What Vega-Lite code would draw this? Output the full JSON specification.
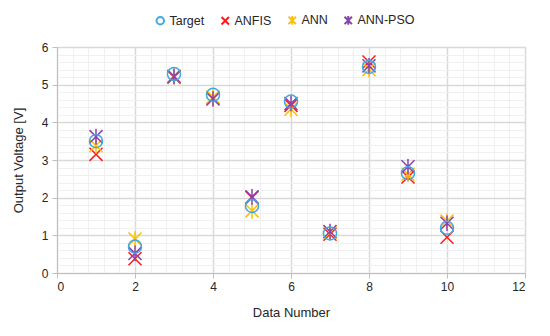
{
  "$schema": "https://vega.github.io/schema/vega-lite/v6.json",
  "width": 468,
  "height": 226,
  "autosize": {"type": "none"},
  "padding": {"left": 57, "top": 47, "right": 25, "bottom": 63},
  "background": "white",
  "config": {
    "font": "Liberation Sans",
    "view": {"stroke": "#d9d9d9", "strokeWidth": 1}
  },
  "data": {
    "values": [
      {"n": 1, "series": "Target", "v": 3.5},
      {"n": 2, "series": "Target", "v": 0.7},
      {"n": 3, "series": "Target", "v": 5.28},
      {"n": 4, "series": "Target", "v": 4.73},
      {"n": 5, "series": "Target", "v": 1.78},
      {"n": 6, "series": "Target", "v": 4.55},
      {"n": 7, "series": "Target", "v": 1.05},
      {"n": 8, "series": "Target", "v": 5.47},
      {"n": 9, "series": "Target", "v": 2.65},
      {"n": 10, "series": "Target", "v": 1.2},
      {"n": 1, "series": "ANFIS", "v": 3.15},
      {"n": 2, "series": "ANFIS", "v": 0.38},
      {"n": 3, "series": "ANFIS", "v": 5.2},
      {"n": 4, "series": "ANFIS", "v": 4.65},
      {"n": 5, "series": "ANFIS", "v": 2.0},
      {"n": 6, "series": "ANFIS", "v": 4.45},
      {"n": 7, "series": "ANFIS", "v": 1.03},
      {"n": 8, "series": "ANFIS", "v": 5.6},
      {"n": 9, "series": "ANFIS", "v": 2.55},
      {"n": 10, "series": "ANFIS", "v": 0.95},
      {"n": 1, "series": "ANN", "v": 3.38},
      {"n": 2, "series": "ANN", "v": 0.9},
      {"n": 3, "series": "ANN", "v": 5.22},
      {"n": 4, "series": "ANN", "v": 4.67},
      {"n": 5, "series": "ANN", "v": 1.65},
      {"n": 6, "series": "ANN", "v": 4.35},
      {"n": 7, "series": "ANN", "v": 1.08},
      {"n": 8, "series": "ANN", "v": 5.4},
      {"n": 9, "series": "ANN", "v": 2.62},
      {"n": 10, "series": "ANN", "v": 1.38},
      {"n": 1, "series": "ANN-PSO", "v": 3.62},
      {"n": 2, "series": "ANN-PSO", "v": 0.52},
      {"n": 3, "series": "ANN-PSO", "v": 5.22},
      {"n": 4, "series": "ANN-PSO", "v": 4.62},
      {"n": 5, "series": "ANN-PSO", "v": 2.02},
      {"n": 6, "series": "ANN-PSO", "v": 4.5},
      {"n": 7, "series": "ANN-PSO", "v": 1.1},
      {"n": 8, "series": "ANN-PSO", "v": 5.5},
      {"n": 9, "series": "ANN-PSO", "v": 2.82},
      {"n": 10, "series": "ANN-PSO", "v": 1.32}
    ]
  },
  "mark": {"type": "point", "filled": false, "strokeWidth": 1.5, "size": 170, "opacity": 1},
  "encoding": {
    "x": {
      "field": "n", "type": "quantitative",
      "scale": {"domain": [0, 12], "nice": false, "zero": false},
      "axis": {
        "title": "Data Number",
        "values": [0,0.4,0.8,1.2,1.6,2,2.4,2.8,3.2,3.6,4,4.4,4.8,5.2,5.6,6,6.4,6.8,7.2,7.6,8,8.4,8.8,9.2,9.6,10,10.4,10.8,11.2,11.6,12],
        "labelExpr": "abs(datum.value/2 - round(datum.value/2)) < 0.01 ? datum.value : ''",
        "gridColor": {"condition": {"test": "abs(datum.value/2 - round(datum.value/2)) < 0.01", "value": "#d9d9d9"}, "value": "#f0f0f0"},
        "gridWidth": {"condition": {"test": "abs(datum.value/2 - round(datum.value/2)) < 0.01", "value": 1.5}, "value": 1},
        "tickColor": {"condition": {"test": "abs(datum.value/2 - round(datum.value/2)) < 0.01", "value": "#bfbfbf"}, "value": "transparent"},
        "tickSize": 5,
        "domainColor": "#bfbfbf",
        "labelFontSize": 12, "labelColor": "#262626", "labelPadding": 3,
        "titleFontSize": 13, "titleColor": "#262626", "titleFontWeight": "normal", "titlePadding": 14
      }
    },
    "y": {
      "field": "v", "type": "quantitative",
      "scale": {"domain": [0, 6], "nice": false},
      "axis": {
        "title": "Output Voltage [V]",
        "values": [0,0.2,0.4,0.6,0.8,1,1.2,1.4,1.6,1.8,2,2.2,2.4,2.6,2.8,3,3.2,3.4,3.6,3.8,4,4.2,4.4,4.6,4.8,5,5.2,5.4,5.6,5.8,6],
        "labelExpr": "abs(datum.value - round(datum.value)) < 0.01 ? datum.value : ''",
        "gridColor": {"condition": {"test": "abs(datum.value - round(datum.value)) < 0.01", "value": "#d9d9d9"}, "value": "#f0f0f0"},
        "gridWidth": {"condition": {"test": "abs(datum.value - round(datum.value)) < 0.01", "value": 1.5}, "value": 1},
        "tickColor": {"condition": {"test": "abs(datum.value - round(datum.value)) < 0.01", "value": "#bfbfbf"}, "value": "transparent"},
        "tickSize": 5,
        "domainColor": "#bfbfbf",
        "labelFontSize": 12, "labelColor": "#262626", "labelPadding": 4,
        "titleFontSize": 13, "titleColor": "#262626", "titleFontWeight": "normal", "titlePadding": 16
      }
    },
    "color": {
      "field": "series", "type": "nominal",
      "scale": {"domain": ["Target", "ANFIS", "ANN", "ANN-PSO"], "range": ["#3fa9e0", "#ff1a1a", "#ffc000", "#8a42b0"]},
      "legend": {
        "title": null, "orient": "none", "direction": "horizontal",
        "legendX": 97, "legendY": -33,
        "labelFontSize": 12.5, "labelColor": "#262626",
        "symbolSize": 55, "symbolStrokeWidth": 2, "columnPadding": 12, "labelOffset": 3
      }
    },
    "shape": {
      "field": "series", "type": "nominal",
      "scale": {"domain": ["Target", "ANFIS", "ANN", "ANN-PSO"], "range": ["circle", "M-1,-1L1,1M-1,1L1,-1", "M-1,-1L1,1M-1,1L1,-1M0,-1.2L0,1.2", "M-1,-1L1,1M-1,1L1,-1M0,-1.2L0,1.2"]}
    },
    "order": {"field": "series"}
  }
}
